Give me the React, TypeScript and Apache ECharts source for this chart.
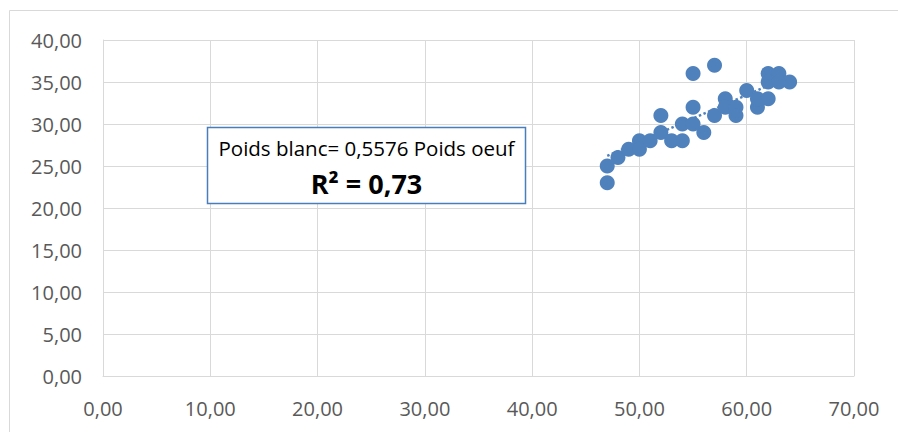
import React, { useEffect, useRef } from "react";
import * as echarts from "echarts";

const poidsOeuf = [47, 47, 48, 49, 50, 50, 51, 52, 52, 53, 54, 54, 55, 55, 55, 56, 57, 57, 58, 58, 59, 59, 60, 61, 61, 62, 62, 62, 63, 63, 64];
const poidsBlanc = [23, 25, 26, 27, 28, 27, 28, 31, 29, 28, 28, 30, 30, 32, 36, 29, 37, 31, 33, 32, 32, 31, 34, 32, 33, 33, 36, 35, 36, 35, 35];
const trendX = [47, 64];
const trendY = [26.21, 35.69];
const equationText = "Poids blanc= 0,5576 Poids oeuf";
const r2Text = "R² = 0,73";

const fmt = (v: number) => v.toFixed(2).replace(".", ",");
const FONT = "Open Sans";
const BLUE = "#4F81BD";

export default function App() {
  const ref = useRef<HTMLDivElement>(null);
  useEffect(() => {
    if (!ref.current) return;
    const chart = echarts.init(ref.current, null, { renderer: "svg" });
    chart.setOption({
      animation: false,
      backgroundColor: "#fff",
      grid: { left: 103, right: 44, top: 40, bottom: 56, containLabel: false },
      xAxis: {
        type: "value",
        min: 0,
        max: 70,
        interval: 10,
        axisLine: { show: true, lineStyle: { color: "#D9D9D9", width: 1 } },
        axisTick: { show: false },
        splitLine: { show: true, lineStyle: { color: "#D9D9D9", width: 1 } },
        axisLabel: { formatter: fmt, color: "#595959", fontFamily: FONT, fontSize: 20, margin: 22 },
      },
      yAxis: {
        type: "value",
        min: 0,
        max: 40,
        interval: 5,
        axisLine: { show: true, lineStyle: { color: "#D9D9D9", width: 1 } },
        axisTick: { show: false },
        splitLine: { show: true, lineStyle: { color: "#D9D9D9", width: 1 } },
        axisLabel: { formatter: fmt, color: "#595959", fontFamily: FONT, fontSize: 20, margin: 21 },
      },
      series: [
        {
          type: "line",
          data: trendX.map((x, i) => [x, trendY[i]]),
          symbol: "none",
          lineStyle: { color: BLUE, width: 2.5, type: "dotted" },
          z: 1,
        },
        {
          type: "scatter",
          data: poidsOeuf.map((x, i) => [x, poidsBlanc[i]]),
          symbol: "circle",
          symbolSize: 15,
          itemStyle: { color: BLUE, opacity: 1 },
          z: 2,
        },
      ],
      graphic: [
        {
          type: "rect",
          silent: true,
          shape: { x: 9.5, y: 10.5, width: 900, height: 440 },
          style: { fill: "none", stroke: "#D9D9D9", lineWidth: 1 },
          z: -10,
        },
        {
          type: "rect",
          shape: { x: 207.5, y: 127.5, width: 318, height: 76 },
          style: { fill: "#fff", stroke: "#4A7EBB", lineWidth: 1.5 },
          z: 10,
        },
        {
          type: "text",
          x: 366.5,
          y: 148,
          style: {
            text: equationText,
            font: `20.5px "${FONT}"`,
            fill: "#000",
            align: "center",
            verticalAlign: "middle",
          },
          z: 11,
        },
        {
          type: "text",
          x: 366.5,
          y: 183,
          style: {
            text: r2Text,
            font: `bold 27px "${FONT}"`,
            fill: "#000",
            align: "center",
            verticalAlign: "middle",
          },
          z: 11,
        },
      ],
    });
    return () => chart.dispose();
  }, []);
  return <div ref={ref} style={{ width: 898, height: 432, position: "absolute", left: 0, top: 0 }} />;
}
